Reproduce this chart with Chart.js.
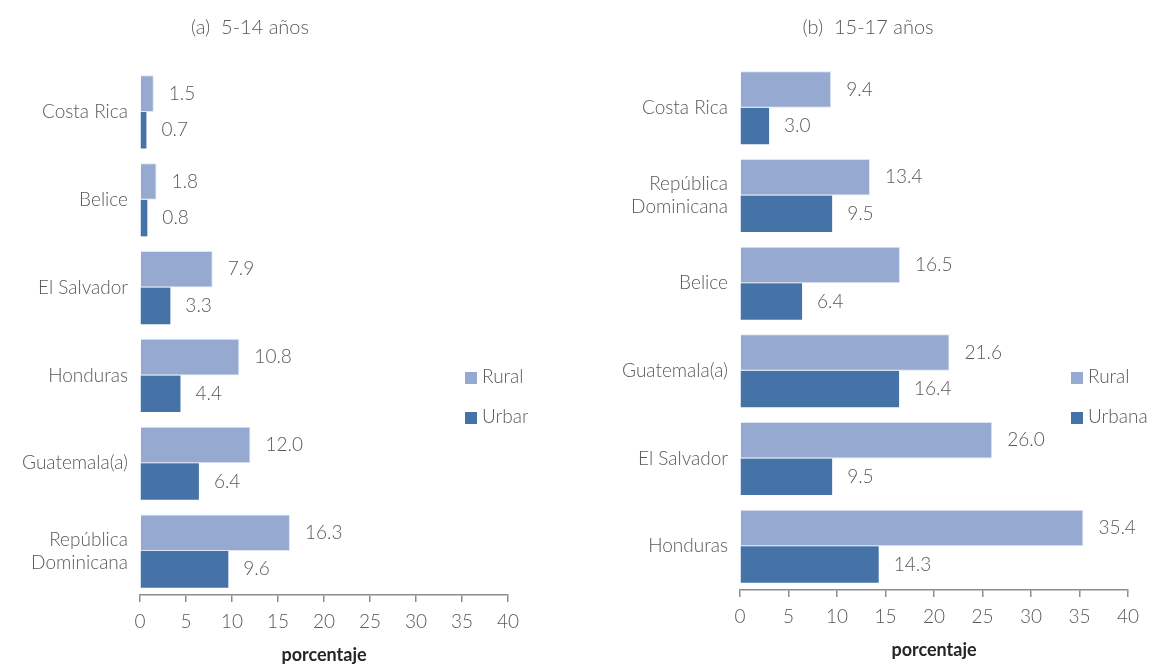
<!DOCTYPE html>
<html>
<head>
<meta charset="utf-8">
<script src="https://cdn.jsdelivr.net/npm/chart.js@4"></script>
<style>
  body { margin:0; background:#fff; width:1150px; height:666px; position:relative; overflow:hidden; font-family:Lato, sans-serif; }
  .panel { position:absolute; top:0; height:666px; }
  .title { position:absolute; top:14px; font-size:20px; font-weight:300; color:#595959; white-space:pre; transform:translateX(-50%); }
  .legend { position:absolute; font-size:19px; font-weight:300; color:#595959; overflow:hidden; white-space:nowrap; }
  .legend div { height:40px; line-height:20px; }
  .legend span.sw { display:inline-block; width:12px; height:12px; margin-right:5px; vertical-align:-1px; }
</style>
</head>
<body>
<div class="panel" style="left:0;width:560px"><canvas id="chartA"></canvas></div>
<div class="panel" style="left:580px;width:570px"><canvas id="chartB"></canvas></div>
<div class="title" style="left:250px">(a)  5-14 años</div>
<div class="title" style="left:868px">(b)  15-17 años</div>
<div class="legend" style="left:465px;top:366px;width:63px">
  <div><span class="sw" style="background:#95a9d1"></span>Rural</div>
  <div><span class="sw" style="background:#4573a8"></span>Urbana</div>
</div>
<div class="legend" style="left:1071px;top:366px;width:79px">
  <div><span class="sw" style="background:#95a9d1"></span>Rural</div>
  <div><span class="sw" style="background:#4573a8"></span>Urbana</div>
</div>
<script>
const categoriesA = ['Costa Rica', 'Belice', 'El Salvador', 'Honduras', 'Guatemala(a)', ['República', 'Dominicana']];
const ruralA = [1.5, 1.8, 7.9, 10.8, 12.0, 16.3];
const urbanA = [0.7, 0.8, 3.3, 4.4, 6.4, 9.6];

const categoriesB = ['Costa Rica', ['República', 'Dominicana'], 'Belice', 'Guatemala(a)', 'El Salvador', 'Honduras'];
const ruralB = [9.4, 13.4, 16.5, 21.6, 26.0, 35.4];
const urbanB = [3.0, 9.5, 6.4, 16.4, 9.5, 14.3];

const xMin = 0, xMax = 40, xStep = 5;
const seriesNames = ['Rural', 'Urbana'];

const gray = '#595959';
const fontBase = { family: 'Lato, sans-serif', size: 19, weight: 300 };

// value labels to the right of each bar
const valueLabels = {
  id: 'valueLabels',
  afterDatasetsDraw(chart) {
    const ctx = chart.ctx;
    ctx.save();
    ctx.font = '300 19px Lato, sans-serif';
    ctx.fillStyle = gray;
    ctx.textBaseline = 'middle';
    ctx.textAlign = 'left';
    chart.data.datasets.forEach((ds, i) => {
      chart.getDatasetMeta(i).data.forEach((bar, j) => {
        ctx.fillText(ds.data[j].toFixed(1), bar.x + 15, bar.y);
      });
    });
    ctx.restore();
  }
};

function makeChart(id, labels, rural, urban, yWidth, padTop, padRight, padBottom) {
  const ctx = document.getElementById(id).getContext('2d');
  return new Chart(ctx, {
    type: 'bar',
    data: {
      labels: labels,
      datasets: [
        { label: seriesNames[0], data: rural, backgroundColor: '#95a9d1', borderColor: '#dfe5f1', borderWidth: 1, borderSkipped: 'start' },
        { label: seriesNames[1], data: urban, backgroundColor: '#4573a8', borderColor: '#ffffff', borderWidth: 0 }
      ]
    },
    options: {
      indexAxis: 'y',
      responsive: true,
      maintainAspectRatio: false,
      animation: false,
      layout: { padding: { top: padTop, right: padRight, bottom: padBottom, left: 0 } },
      datasets: { bar: { categoryPercentage: 0.833, barPercentage: 1.0 } },
      plugins: { legend: { display: false }, tooltip: { enabled: false } },
      scales: {
        x: {
          min: xMin, max: xMax,
          ticks: { stepSize: xStep, color: gray, font: fontBase, padding: 8 },
          grid: { display: true, drawOnChartArea: false, drawTicks: true, tickLength: 7, color: '#8c8c8c', lineWidth: 1.5 },
          border: { display: true, color: '#8c8c8c', width: 1.5 },
          title: { display: true, text: 'porcentaje', color: '#262626', font: { family: 'Lato, sans-serif', size: 18, weight: 700 }, padding: { top: 0, bottom: 0 } },
          afterFit: (s) => { s.height = 71; }
        },
        y: {
          ticks: { color: gray, font: fontBase, padding: 12 },
          grid: { display: false, drawTicks: false },
          border: { display: false },
          afterFit: (s) => { s.width = yWidth; }
        }
      }
    },
    plugins: [valueLabels]
  });
}

makeChart('chartA', categoriesA, ruralA, urbanA, 140, 68, 52, 0);
makeChart('chartB', categoriesB, ruralB, urbanB, 160, 64, 22, 5);
</script>
</body>
</html>
